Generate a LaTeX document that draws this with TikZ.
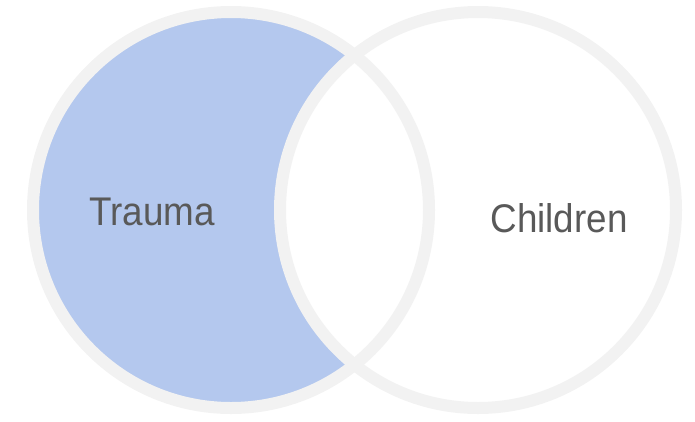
\documentclass[tikz,border=0pt]{standalone}
\usepackage{fontspec}
\setmainfont{Liberation Sans}[FakeStretch=0.92]
\definecolor{anel}{HTML}{F2F2F2}
\definecolor{azul}{HTML}{B4C8EE}
\definecolor{texto}{HTML}{595959}
\begin{document}
\begin{tikzpicture}[x=1pt,y=-1pt]

	% margens
	\useasboundingbox (0,0) rectangle (695,421);

	\coordinate (T) at (231,210);     % centro Trauma
	\coordinate (C) at (478,210);     % centro Children
	\def\raio{198}

	% parte so de Trauma
	\fill[azul] (T) circle (\raio);
	\fill[white] (C) circle (\raio);

	% aneis
	\draw[anel,line width=12pt] (T) circle (\raio);
	\draw[anel,line width=12pt] (C) circle (\raio);

	% rotulos
	\node[texto,font=\fontsize{40}{42}\selectfont] (trauma) at (152,212) {Trauma};
	\node[texto,font=\fontsize{40}{42}\selectfont] (children) at (559,218) {Children};

\end{tikzpicture}
\end{document}
